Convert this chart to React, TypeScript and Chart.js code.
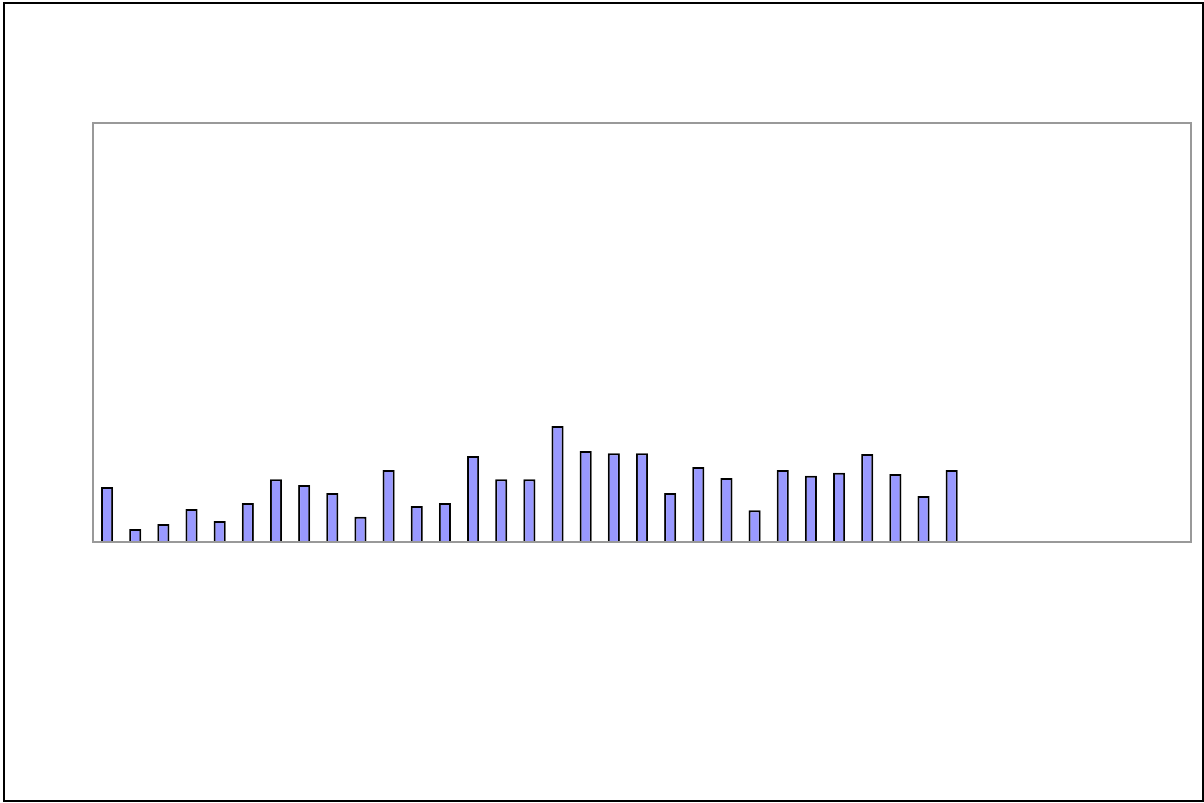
import React, { useEffect, useRef } from "react";
import { Chart, registerables } from "chart.js";

Chart.register(...registerables);

const categories: string[] = Array.from({ length: 39 }, (_, i) => String(i + 1));
const seriesValues: (number | null)[] = [
  13.1, 3.1, 4.3, 7.9, 5.0, 9.3, 15.0, 13.6, 11.7, 6.0,
  17.2, 8.6, 9.3, 20.5, 15.0, 15.0, 27.7, 21.7, 21.2, 21.2,
  11.7, 17.9, 15.3, 7.6, 17.2, 15.8, 16.5, 21.0, 16.2, 11.0,
  17.2,
];
const yMin = 0;
const yMax = 100;

const frame = {
  id: "frame",
  afterDraw(chart: any) {
    const { ctx, chartArea } = chart;
    ctx.save();
    ctx.strokeStyle = "#999999";
    ctx.lineWidth = 2;
    ctx.strokeRect(chartArea.left, chartArea.top, chartArea.right - chartArea.left, chartArea.bottom - chartArea.top);
    ctx.restore();
  },
};

export default function App() {
  const ref = useRef<HTMLCanvasElement | null>(null);
  useEffect(() => {
    if (!ref.current) return;
    const chart = new Chart(ref.current, {
      type: "bar",
      data: {
        labels: categories,
        datasets: [
          {
            data: seriesValues,
            backgroundColor: "#9999ff",
            borderColor: "#000000",
            borderWidth: 2,
            barPercentage: 0.43,
            categoryPercentage: 1,
          },
        ],
      },
      options: {
        animation: false,
        responsive: false,
        maintainAspectRatio: false,
        layout: { padding: { left: 93, top: 123, right: 13, bottom: 261 } },
        plugins: { legend: { display: false }, tooltip: { enabled: false } },
        scales: {
          x: { display: false },
          y: { display: false, min: yMin, max: yMax },
        },
      },
      plugins: [frame],
    });
    return () => chart.destroy();
  }, []);
  return (
    <div style={{ position: "fixed", left: 0, top: 0, width: 1204, height: 803, background: "#fff" }}>
      <canvas ref={ref} width={1204} height={803} style={{ position: "absolute", left: 0, top: 0 }} />
      <div
        style={{
          position: "absolute",
          left: 3,
          top: 2,
          width: 1201,
          height: 800,
          border: "2px solid #000",
          boxSizing: "border-box",
          pointerEvents: "none",
        }}
      />
    </div>
  );
}
